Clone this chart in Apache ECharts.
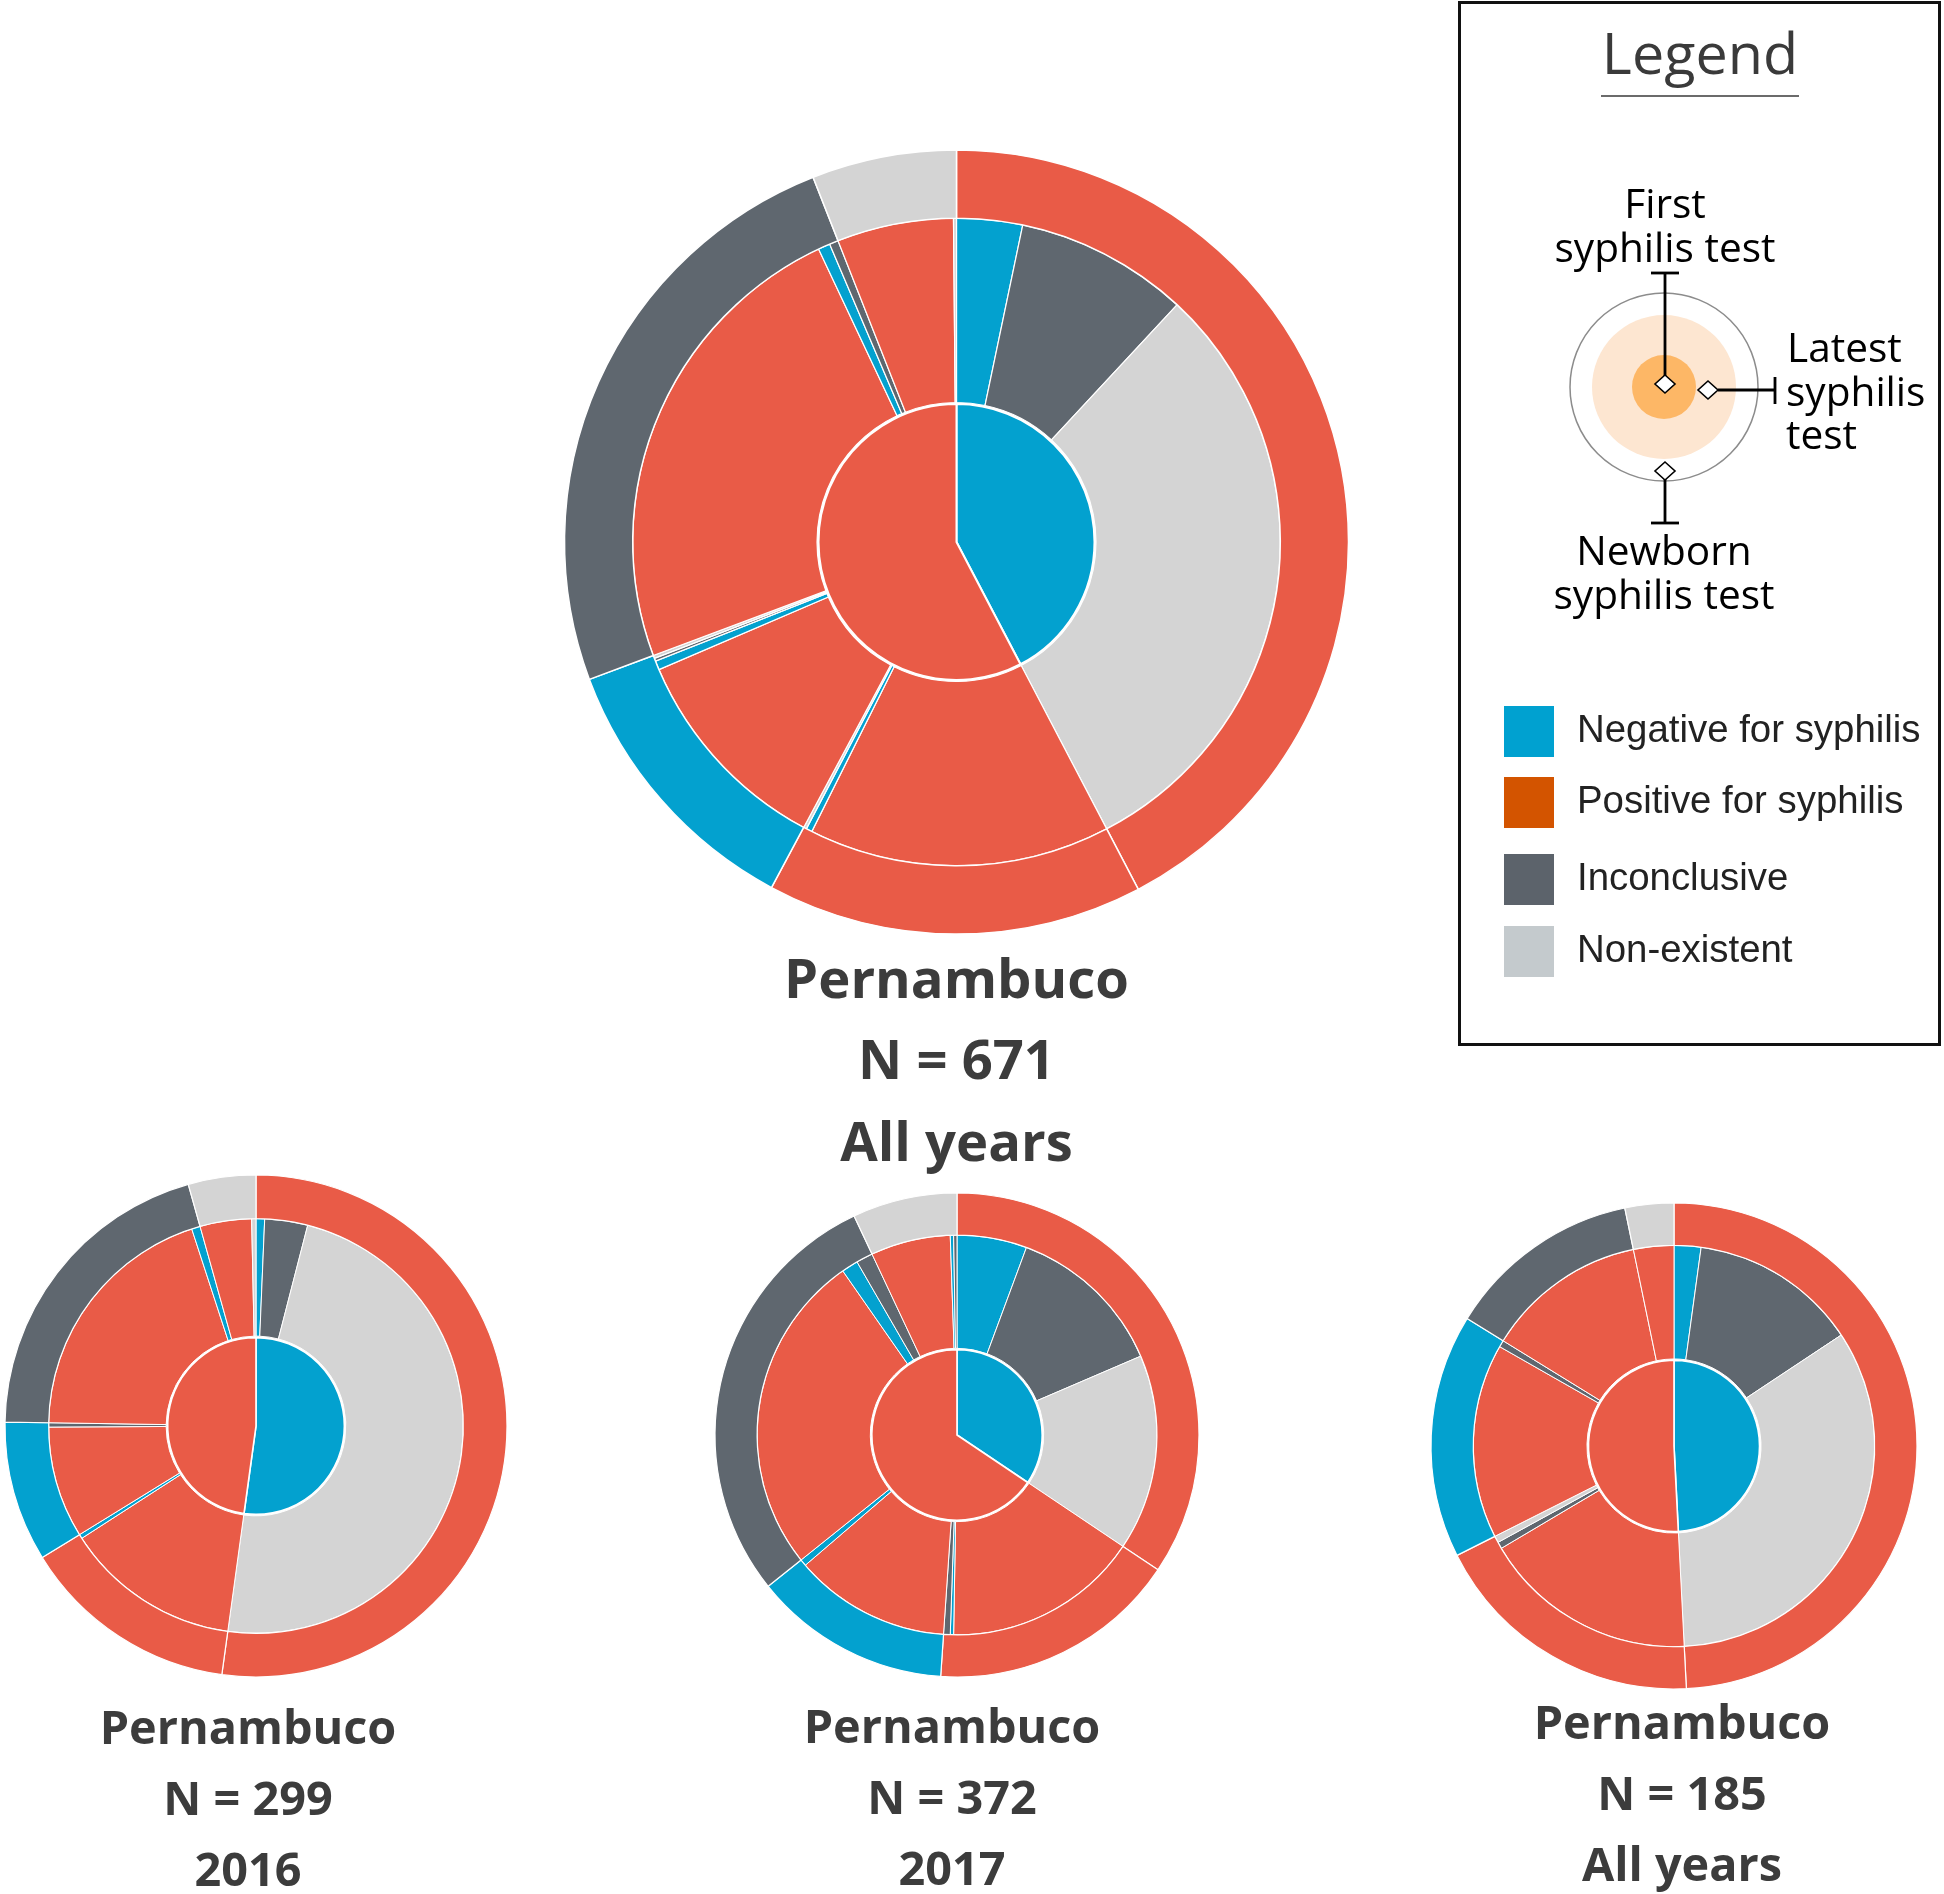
<!DOCTYPE html>
<html>
<head>
<meta charset="utf-8">
<script src="https://cdn.jsdelivr.net/npm/echarts@6/dist/echarts.min.js"></script>
<style>
html,body{margin:0;padding:0;background:#fff;}
#chart{width:1944px;height:1894px;}
</style>
</head>
<body>
<div id="chart"></div>
<script>
// Category labels
const NEG = 'Negative for syphilis';
const POS = 'Positive for syphilis';
const INC = 'Inconclusive';
const NON = 'Non-existent';
const legendItems = [NEG, POS, INC, NON];

// ---- Pernambuco, all years, N = 671 ----
const allFirst = [[NEG, 284], [POS, 387]];
const allLatest = [
  [NEG, 22], [INC, 58], [NON, 204],
  [POS, 101], [NEG, 2], [NON, 1],
  [POS, 72], [NEG, 3], [INC, 1], [NON, 1],
  [POS, 159], [NEG, 4], [INC, 3],
  [POS, 39], [NON, 1]
];
const allNewborn = [[POS, 284], [POS, 104], [NEG, 77], [INC, 166], [NON, 40]];

// ---- Pernambuco, 2016, N = 299 ----
const y2016First = [[NEG, 156], [POS, 143]];
const y2016Latest = [
  [NEG, 2], [INC, 10], [NON, 144],
  [POS, 41], [NEG, 1],
  [POS, 26], [INC, 1],
  [POS, 59], [NEG, 2],
  [POS, 12], [NON, 1]
];
const y2016Newborn = [[POS, 156], [POS, 42], [NEG, 27], [INC, 61], [NON, 13]];

// ---- Pernambuco, 2017, N = 372 ----
const y2017First = [[NEG, 128], [POS, 244]];
const y2017Latest = [
  [NEG, 21], [INC, 48], [NON, 59],
  [POS, 59], [NEG, 1], [INC, 2],
  [POS, 47], [NEG, 2],
  [POS, 97], [NEG, 5], [INC, 5],
  [POS, 24], [NEG, 1], [INC, 1]
];
const y2017Newborn = [[POS, 128], [POS, 62], [NEG, 49], [INC, 107], [NON, 26]];

// ---- Pernambuco, all years, N = 185 ----
const sub185First = [[NEG, 91], [POS, 94]];
const sub185Latest = [
  [NEG, 4], [INC, 25], [NON, 62],
  [POS, 32], [INC, 1], [NON, 1],
  [POS, 29], [INC, 1],
  [POS, 24],
  [POS, 6]
];
const sub185Newborn = [[POS, 91], [POS, 34], [NEG, 30], [INC, 24], [NON, 6]];

const titles = [
  ['Pernambuco', 'N = 671', 'All years'],
  ['Pernambuco', 'N = 299', '2016'],
  ['Pernambuco', 'N = 372', '2017'],
  ['Pernambuco', 'N = 185', 'All years']
];

// styles
const COLORS = {};
COLORS[NEG] = '#03a1cf';
COLORS[POS] = '#e95b47';
COLORS[INC] = '#5f676f';
COLORS[NON] = '#d4d4d4';
const LEGEND_COLORS = {};
LEGEND_COLORS[NEG] = '#00a1d0';
LEGEND_COLORS[POS] = '#d35400';
LEGEND_COLORS[INC] = '#5c636b';
LEGEND_COLORS[NON] = '#c4cacd';

const charts = [
  {first: allFirst, latest: allLatest, newborn: allNewborn, center: [956.5, 542], R: 392, bw: [2, 1.2, 1.5],
   text: {x: 956.5, ys: [982, 1063, 1145], size: 54.4}},
  {first: y2016First, latest: y2016Latest, newborn: y2016Newborn, center: [256, 1426], R: 251, bw: [1.6, 1, 1.2],
   text: {x: 248, ys: [1731, 1802, 1873], size: 46.8}},
  {first: y2017First, latest: y2017Latest, newborn: y2017Newborn, center: [957, 1435], R: 242, bw: [1.6, 1, 1.2],
   text: {x: 952, ys: [1730, 1801, 1872], size: 46.8}},
  {first: sub185First, latest: sub185Latest, newborn: sub185Newborn, center: [1674, 1446], R: 243, bw: [1.6, 1, 1.2],
   text: {x: 1682, ys: [1726, 1797, 1868], size: 46.8}}
];

function ring(data, center, r0, r1, bw) {
  return {
    type: 'pie', center: center, radius: [r0, r1],
    startAngle: 90, clockwise: true, silent: true, animation: false,
    avoidLabelOverlap: false, minAngle: 0,
    label: {show: false}, labelLine: {show: false},
    emphasis: {disabled: true},
    itemStyle: {borderColor: '#ffffff', borderWidth: bw},
    data: data.map(function (d) { return {name: d[0], value: d[1], itemStyle: {color: COLORS[d[0]]}}; })
  };
}

const series = [];
const graphics = [];
charts.forEach(function (c, i) {
  const rIn = c.R * 0.352, rMid = c.R * 0.826;
  series.push(ring(c.first, c.center, 0, rIn, c.bw[0]));
  series.push(ring(c.latest, c.center, rIn + 1.5, rMid, c.bw[1]));
  series.push(ring(c.newborn, c.center, rMid, c.R, c.bw[2]));
  titles[i].forEach(function (t, k) {
    graphics.push({type: 'text', x: c.text.x, y: c.text.ys[k], silent: true,
      style: {text: t, fontFamily: '"Open Sans", sans-serif', fontWeight: 'bold', fontSize: c.text.size,
        fill: '#3c3c3c', align: 'center', verticalAlign: 'middle'}});
  });
});

// Legend box
graphics.push({type: 'rect', silent: true, shape: {x: 1459.5, y: 2.5, width: 480, height: 1042},
  style: {fill: '#ffffff', stroke: '#111111', lineWidth: 3}, z: -1});
graphics.push({type: 'text', x: 1700, y: 58, silent: true,
  style: {text: 'Legend', fontFamily: '"Open Sans", sans-serif', fontSize: 57.5, fill: '#3a3a3a', align: 'center', verticalAlign: 'middle'}});
graphics.push({type: 'line', silent: true, shape: {x1: 1601, y1: 96, x2: 1799, y2: 96}, style: {stroke: '#3a3a3a', lineWidth: 1.6}});

// diagram
const dc = [1664, 387];
graphics.push({type: 'circle', silent: true, shape: {cx: dc[0], cy: dc[1], r: 94}, style: {fill: '#ffffff', stroke: '#8c8c8c', lineWidth: 1.5}});
graphics.push({type: 'circle', silent: true, shape: {cx: dc[0], cy: dc[1], r: 72}, style: {fill: '#fde6d1'}});
graphics.push({type: 'circle', silent: true, shape: {cx: dc[0], cy: dc[1], r: 32}, style: {fill: '#fdb766'}});
function diamond(cx, cy) {
  return {type: 'polygon', silent: true, z: 5, shape: {points: [[cx, cy - 9], [cx + 10, cy], [cx, cy + 9], [cx - 10, cy]]},
    style: {fill: '#ffffff', stroke: '#000000', lineWidth: 1.6}};
}
function seg(x1, y1, x2, y2) {
  return {type: 'line', silent: true, z: 4, shape: {x1: x1, y1: y1, x2: x2, y2: y2}, style: {stroke: '#000000', lineWidth: 2.8}};
}
graphics.push(seg(1665, 273, 1665, 376));
graphics.push(seg(1651, 273, 1679, 273));
graphics.push(diamond(1665, 384));
graphics.push(seg(1718, 390, 1775, 390));
graphics.push(seg(1775, 377, 1775, 404));
graphics.push(diamond(1708, 390));
graphics.push(seg(1665, 479, 1665, 523));
graphics.push(seg(1651, 523, 1679, 523));
graphics.push(diamond(1665, 471));

const diagramTexts = [
  ['First', 1665, 206, 'center'],
  ['syphilis test', 1665, 250, 'center'],
  ['Latest', 1787, 350, 'left'],
  ['syphilis', 1786, 394, 'left'],
  ['test', 1786, 437, 'left'],
  ['Newborn', 1664, 553, 'center'],
  ['syphilis test', 1664, 597, 'center']
];
diagramTexts.forEach(function (d) {
  graphics.push({type: 'text', x: d[1], y: d[2], silent: true,
    style: {text: d[0], fontFamily: '"Open Sans", sans-serif', fontSize: 40.6, fill: '#000000', align: d[3], verticalAlign: 'middle'}});
});

// legend items
const swatchY = [706, 777, 854, 926];
legendItems.forEach(function (name, i) {
  graphics.push({type: 'rect', silent: true, shape: {x: 1504, y: swatchY[i], width: 50, height: 51},
    style: {fill: LEGEND_COLORS[name]}});
  graphics.push({type: 'text', x: 1577, y: swatchY[i] + 25, silent: true,
    style: {text: name, fontFamily: '"Liberation Sans", Arial, sans-serif', fontSize: 38.4, fill: '#222222', align: 'left', verticalAlign: 'middle'}});
});

const chart = echarts.init(document.getElementById('chart'), null, {renderer: 'canvas'});
chart.setOption({
  animation: false,
  backgroundColor: '#ffffff',
  series: series,
  graphic: {elements: graphics}
});
</script>
</body>
</html>
